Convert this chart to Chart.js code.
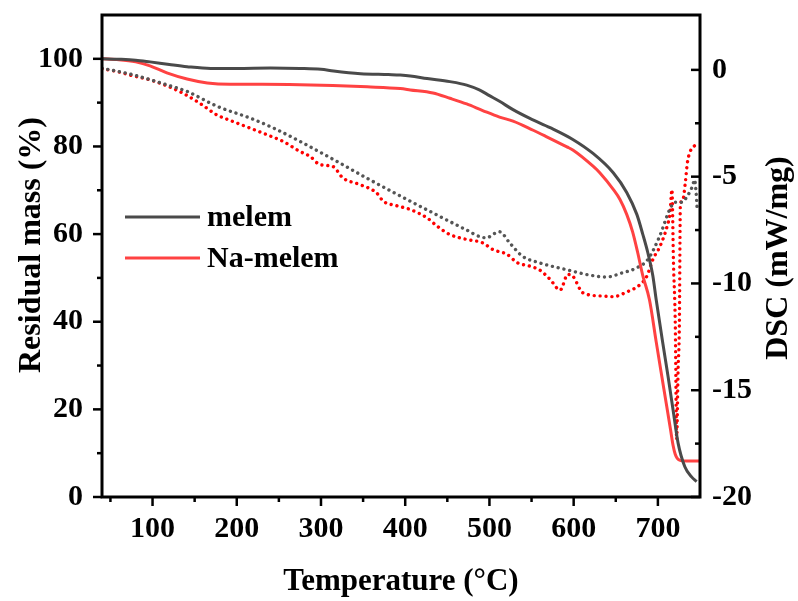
<!DOCTYPE html>
<html><head><meta charset="utf-8">
<script src="https://cdn.jsdelivr.net/npm/chart.js@4.4.1/dist/chart.umd.min.js"></script>
<style>html,body{margin:0;padding:0;background:#fff;}</style>
</head><body>
<canvas id="c" width="798" height="601"></canvas>
<script>
// ---------- data ----------
const xTickLabels = [100, 200, 300, 400, 500, 600, 700];
const xMinorTicks = [50, 150, 250, 350, 450, 550, 650];
const massTickLabels = [0, 20, 40, 60, 80, 100];
const massMinorTicks = [10, 30, 50, 70, 90];
const dscTickLabels = [0, -5, -10, -15, -20];
const dscMinorTicks = [-2.5, -7.5, -12.5, -17.5];

const seriesNames = ['melem', 'Na-melem'];

const melemTgaT = [40, 60, 80, 97, 120, 141, 169, 200, 240, 275, 300, 315, 347, 380, 394, 406, 426, 453, 473, 488, 500, 512, 528, 548, 572, 599, 623, 647, 663, 675, 682, 688, 694, 698, 706, 712, 718, 724, 732, 740, 746];
const melemTga  = [100, 99.9, 99.7, 99.3, 98.7, 98.2, 97.8, 97.8, 97.9, 97.8, 97.6, 97.2, 96.6, 96.4, 96.3, 96.1, 95.5, 94.8, 94.0, 92.9, 91.6, 90.3, 88.4, 86.4, 84.3, 81.6, 78.4, 74, 69.5, 64.5, 60, 55.8, 50.5, 45, 34.9, 27.6, 19.9, 12.3, 6.9, 4.6, 3.5];

const naMelemTgaT = [40, 60, 80, 97, 117, 141, 165, 192, 230, 275, 314, 355, 394, 406, 433, 453, 473, 492, 512, 528, 552, 568, 592, 599, 623, 631, 647, 655, 663, 670, 676, 682, 690, 698, 704, 710, 715, 718, 720.5, 723, 727, 734, 750];
const naMelemTga  = [100, 99.8, 99.3, 98.4, 96.8, 95.4, 94.5, 94.2, 94.2, 94.1, 93.9, 93.6, 93.2, 92.9, 92.2, 91, 89.7, 88.2, 86.7, 85.8, 83.7, 82.2, 79.9, 79.2, 75.5, 74, 70.2, 67.9, 64.5, 60.5, 55.8, 50.6, 45, 35.4, 28.3, 21.3, 15.4, 11.8, 9.8, 8.8, 8.3, 8.2, 8.2];

const melemDscT = [40, 77, 117, 141, 177, 216, 244, 275, 315, 354, 394, 433, 472, 491, 497, 505, 512, 524, 539, 559, 591, 619, 639, 658, 675, 688, 702, 714, 720, 728, 736, 741, 743.5, 745.5, 746.5];
const melemDsc  = [0.08, -0.23, -0.7, -1.01, -1.71, -2.26, -2.73, -3.35, -4.2, -5.06, -5.9, -6.7, -7.48, -7.84, -7.86, -7.68, -7.58, -8.1, -8.72, -9.03, -9.35, -9.61, -9.7, -9.5, -9.27, -8.88, -7.8, -6.54, -6.2, -6.2, -5.84, -5.45, -5.15, -5.8, -6.45];

const naMelemDscT = [40, 58, 77, 97, 117, 136, 156, 176, 195, 216, 236, 255, 275, 287, 299, 314, 326, 346, 366, 374, 390, 406, 426, 438, 453, 473, 492, 504, 521, 533, 548, 560, 572, 584, 593, 599, 611, 635, 647, 663, 679, 687, 694, 702.5, 711, 714.4, 716.7, 718.5, 720.7, 722.3, 724, 725.5, 726.7, 729.5, 732.5, 735, 738.6, 742, 747];
const naMelemDsc  = [0.05, -0.08, -0.28, -0.47, -0.75, -1.09, -1.56, -2.1, -2.41, -2.73, -3.04, -3.35, -3.82, -4.05, -4.44, -4.52, -5.06, -5.37, -5.76, -6.15, -6.36, -6.54, -6.93, -7.32, -7.71, -7.94, -8.1, -8.41, -8.64, -9.03, -9.19, -9.38, -9.81, -10.31, -9.58, -9.66, -10.44, -10.59, -10.62, -10.4, -10.05, -9.65, -8.88, -8.26, -7.32, -6.7, -5.6, -9, -12, -17.3, -14, -12, -6.3, -6.1, -5.3, -4.35, -3.8, -3.6, -3.5];

// ---------- style ----------
const FONT = "'Liberation Serif', 'Times New Roman', serif";
const GRAY = '#4a4a4a';
const GRAY_DOT = '#555555';
const RED = '#ff4242';
const RED_DOT = '#ff0000';

const pts = (xs, ys) => xs.map((x, i) => ({x: x, y: ys[i]}));

const decoPlugin = {
  id: 'deco',
  afterDraw(chart) {
    const {ctx, chartArea: a, scales} = chart;
    const sx = scales.x, sy = scales.y, sr = scales.y2;
    ctx.save();
    ctx.strokeStyle = '#000';
    ctx.lineWidth = 3;
    ctx.lineCap = 'butt';
    ctx.strokeRect(a.left, a.top, a.right - a.left, a.bottom - a.top);
    const seg = (x1, y1, x2, y2) => { ctx.beginPath(); ctx.moveTo(x1, y1); ctx.lineTo(x2, y2); ctx.stroke(); };
    ctx.lineWidth = 2.5;
    xTickLabels.forEach(v => { const p = sx.getPixelForValue(v); seg(p, a.bottom, p, a.bottom + 9); });
    xMinorTicks.forEach(v => { const p = sx.getPixelForValue(v); seg(p, a.bottom, p, a.bottom + 5); });
    massTickLabels.forEach(v => { const p = sy.getPixelForValue(v); seg(a.left, p, a.left - 9, p); });
    massMinorTicks.forEach(v => { const p = sy.getPixelForValue(v); seg(a.left, p, a.left - 5, p); });
    dscTickLabels.forEach(v => { const p = sr.getPixelForValue(v); seg(a.right, p, a.right - 9, p); });
    dscMinorTicks.forEach(v => { const p = sr.getPixelForValue(v); seg(a.right, p, a.right - 5, p); });

    // axis titles
    ctx.fillStyle = '#000';
    ctx.font = 'bold 31px ' + FONT;
    ctx.textAlign = 'center';
    ctx.textBaseline = 'alphabetic';
    ctx.fillText('Temperature (°C)', (a.left + a.right) / 2, 590);
    ctx.font = 'bold 32px ' + FONT;
    ctx.save();
    ctx.translate(40, 245);
    ctx.rotate(-Math.PI / 2);
    ctx.fillText('Residual mass (%)', 0, 0);
    ctx.restore();
    ctx.save();
    ctx.translate(787, 258);
    ctx.rotate(-Math.PI / 2);
    ctx.fillText('DSC (mW/mg)', 0, 0);
    ctx.restore();

    // legend
    ctx.font = 'bold 30px ' + FONT;
    ctx.textAlign = 'left';
    ctx.textBaseline = 'middle';
    const legendColors = [GRAY, RED];
    const legendY = [217, 258];
    seriesNames.forEach((name, i) => {
      ctx.strokeStyle = legendColors[i];
      ctx.lineWidth = 3;
      seg(125, legendY[i], 200, legendY[i]);
      ctx.fillText(name, 207, legendY[i] + 1);
    });
    ctx.restore();
  }
};

const tickFont = {family: FONT, size: 30, weight: 'bold'};

new Chart(document.getElementById('c'), {
  type: 'line',
  data: {
    datasets: [
      {label: seriesNames[0] + ' TGA', data: pts(melemTgaT, melemTga), yAxisID: 'y', borderColor: GRAY, borderWidth: 3, pointRadius: 0, cubicInterpolationMode: 'monotone'},
      {label: seriesNames[1] + ' TGA', data: pts(naMelemTgaT, naMelemTga), yAxisID: 'y', borderColor: RED, borderWidth: 3, pointRadius: 0, cubicInterpolationMode: 'monotone'},
      {label: seriesNames[0] + ' DSC', data: pts(melemDscT, melemDsc), yAxisID: 'y2', borderColor: GRAY_DOT, borderWidth: 3.4, borderDash: [0.01, 5.9], borderCapStyle: 'round', pointRadius: 0, cubicInterpolationMode: 'monotone'},
      {label: seriesNames[1] + ' DSC', data: pts(naMelemDscT, naMelemDsc), yAxisID: 'y2', borderColor: RED_DOT, borderWidth: 3.4, borderDash: [0.01, 5.9], borderCapStyle: 'round', pointRadius: 0, cubicInterpolationMode: 'monotone'}
    ]
  },
  options: {
    responsive: false,
    animation: false,
    devicePixelRatio: 1,
    layout: {padding: {top: 15, left: 0, right: 0, bottom: 0}},
    plugins: {legend: {display: false}, tooltip: {enabled: false}},
    scales: {
      x: {
        type: 'linear', position: 'bottom', min: 40, max: 750,
        afterBuildTicks: s => { s.ticks = xTickLabels.map(v => ({value: v})); },
        afterFit: s => { s.height = 104; s.paddingLeft = 0; s.paddingRight = 0; },
        grid: {display: false, drawTicks: false},
        border: {display: false},
        ticks: {color: '#000', font: tickFont, padding: 14, maxRotation: 0, autoSkip: false}
      },
      y: {
        type: 'linear', position: 'left', min: 0, max: 110,
        afterBuildTicks: s => { s.ticks = massTickLabels.map(v => ({value: v})); },
        afterFit: s => { s.width = 102; s.paddingTop = 0; s.paddingBottom = 0; },
        grid: {display: false, drawTicks: false},
        border: {display: false},
        ticks: {color: '#000', font: tickFont, padding: 19, autoSkip: false}
      },
      y2: {
        type: 'linear', position: 'right', min: -20, max: 2.57,
        afterBuildTicks: s => { s.ticks = dscTickLabels.map(v => ({value: v})); },
        afterFit: s => { s.width = 98; s.paddingTop = 0; s.paddingBottom = 0; },
        grid: {display: false, drawTicks: false},
        border: {display: false},
        ticks: {color: '#000', font: tickFont, padding: 12, autoSkip: false}
      }
    }
  },
  plugins: [decoPlugin]
});
</script>
</body></html>
